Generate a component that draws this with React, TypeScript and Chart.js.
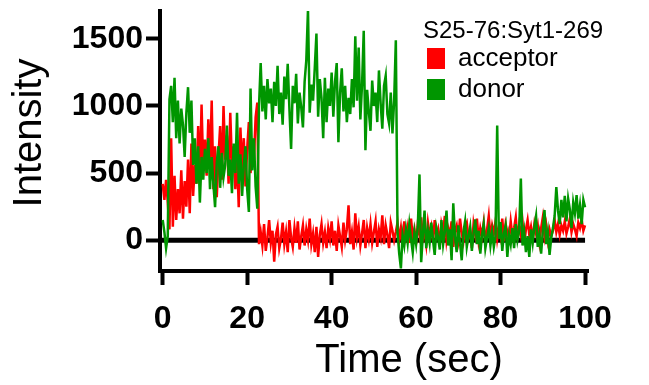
import React, { useEffect, useRef } from 'react';
import { Chart, registerables } from 'chart.js';

Chart.register(...registerables);

// sampling interval of the trace (seconds)
const TIME_STEP = 0.4;

// donor intensity (green), one value every 0.4 s from 0 to 100 s
const DONOR: number[] = [
  150, 60, -60, 30, 1050, 1150, 880, 1210, 760, 1040,
  720, 980, 860, 620, 950, 1140, 800, 1040, 560, 760,
  420, 700, 280, 620, 450, 680, 500, 760, 380, 620,
  420, 245, 580, 700, 390, 650, 470, 560, 855, 480,
  600, 350, 720, 500, 950, 420, 640, 330, 560, 700,
  380, 210, 1130, 520, 760, 400, 235, 1000, 1320, 960,
  1150, 900, 1200, 1020, 1130, 880, 1180, 1000, 1300, 940,
  1100, 860, 1220, 1050, 1315, 980, 680, 1150, 1020, 1240,
  870, 1100, 990, 840, 1180, 1340, 1720, 950, 1160, 1040,
  1280, 1540, 920, 1200, 1060, 760, 1210, 880, 1130, 1000,
  1250, 920, 1180, 1320, 730, 1100, 1280, 960, 1150, 880,
  1060, 940, 1200, 990, 1520, 1040, 1435, 900, 1160, 1560,
  670, 1120, 960, 815, 1190, 1000, 1100, 880, 1265, 1020,
  830, 1150, 1225, 940, 870, 1100, 795, 1040, 1490, 60,
  -100, -210, 40, -40, 80, -20, 120, 10, -90, 60,
  -30, 100, 490, -165, 40, 220, -60, 70, -20, 130,
  0, -110, 90, 20, -70, 150, -30, 60, 220, -40,
  80, -150, 275, 30, -90, 110, -20, -150, 60, 140,
  -50, 30, 100, -80, 50, 155, -30, 70, -100, 40,
  120, -60, 20, 90, -40, 60, -50, 30, 855, 10,
  135, -80, 50, 110, -125, 40, -30, 90, -60, 120,
  0, 70, 460, -40, 60, -90, 30, -125, 80, -20,
  100, 180, -50, 40, -100, 70, 225, -30, 60, -110,
  20, 90, 180, 395, 220, 120, 300, 170, 330, 140,
  310, 230, 90, 280, 200, 335, 160, 260, 120, 300,
  245,
];

// acceptor intensity (red), same time base
const ACCEPTOR: number[] = [
  420, 300, 450, 280, 80, 760, 100, 480, 150, 380,
  200, 520, 160, 440, 250, 600, 200, 720, 330, 560,
  420, 850, 460, 1010, 520, 750, 480, 900, 560, 1040,
  380, 700, 320, 620, 850, 450, 1000, 600, 780, 420,
  950, 560, 700, 380, 640, 245, 840, 520, 760, 400,
  680, 880, 500, 720, 600, 915, 1025, -30, 60, -40,
  120, -80, 20, 150, -20, 70, -160, 40, 100, -60,
  10, 130, -30, 60, -90, 150, 20, -50, 90, -20,
  140, -70, 30, 110, -40, 80, 0, 160, -30, 50,
  -90, 100, -125, 40, 120, -20, 60, -60, 90, 10,
  140, -40, 70, -80, 110, 30, -50, 130, 0, 80,
  260, -30, 60, -70, 200, 20, 100, -40, 50, 150,
  -60, 90, 10, 120, -20, 60, 140, -50, 80, 20,
  185, -30, 110, 40, -60, 130, 70, 0, 60, 130,
  0, 90, -40, 140, 30, 100, -20, 160, 20, 80,
  -30, 120, 40, 170, 10, 70, -30, 130, 40, 100,
  -10, 150, 30, 80, -40, 120, 60, 180, 0, 90,
  40, 140, -50, 70, 110, 10, 160, 50, -10, 100,
  130, 20, 70, -60, 120, 40, 160, 0, 90, 30,
  130, -20, 80, 180, 20, 110, 50, 140, 10, 100,
  30, 160, -10, 120, 60, 10, 140, 30, 90, 170,
  0, 110, 40, 130, -30, 80, 150, 40, 100, 10,
  120, 50, 110, -10, 90, 170, 30, 110, 0, 80,
  30, 70, 150, 60, 120, 40, 110, 70, 140, 50,
  100, 160, 60, 120, 80, 30, 130, 90, 150, 70,
  110,
];

const SERIES_NAMES = ['acceptor', 'donor'];
const SERIES_COLORS = ['#ff0000', '#009600'];
const LEGEND_TITLE = 'S25-76:Syt1-269';
const X_TICKS = [0, 20, 40, 60, 80, 100];
const Y_TICKS = [0, 500, 1000, 1500];
const X_TITLE = 'Time (sec)';
const Y_TITLE = 'Intensity';
const X_RANGE = [-0.64, 100.7];
const Y_RANGE = [-230, 1708];

const TIMES = DONOR.map((_, i) => Math.round(i * TIME_STEP * 10) / 10);

const SANS = '"Liberation Sans", Arial, Helvetica, sans-serif';
const X_TICK_FONT = { family: SANS, weight: 'bold' as const, size: 32 };
const Y_TICK_FONT = { family: SANS, weight: 'bold' as const, size: 32, lineHeight: 0.5 };

const decorPlugin = {
  id: 'decor',
  beforeDatasetsDraw(chart: any) {
    const { ctx, chartArea } = chart;
    const xs = chart.scales.x;
    const ys = chart.scales.y;
    const y0 = ys.getPixelForValue(0);
    ctx.save();
    ctx.strokeStyle = '#000';
    ctx.lineWidth = 5;
    ctx.beginPath();
    ctx.moveTo(chartArea.left, y0);
    ctx.lineTo(xs.getPixelForValue(X_TICKS[X_TICKS.length - 1]), y0);
    ctx.stroke();
    ctx.restore();
  },
  afterDraw(chart: any) {
    const { ctx, chartArea } = chart;
    ctx.save();
    ctx.fillStyle = '#000';
    ctx.textBaseline = 'alphabetic';
    // axis titles
    ctx.font = `40px ${SANS}`;
    ctx.textAlign = 'center';
    ctx.fillText(X_TITLE, chartArea.left + 249, chartArea.bottom + 101);
    ctx.save();
    ctx.translate(41, chartArea.top + 122);
    ctx.rotate(-Math.PI / 2);
    ctx.fillText(Y_TITLE, 0, 0);
    ctx.restore();
    // legend
    const lx = chartArea.left + 263;
    ctx.textAlign = 'left';
    ctx.font = `24px ${SANS}`;
    ctx.fillText(LEGEND_TITLE, lx, chartArea.top + 27);
    ctx.font = `26px ${SANS}`;
    [0, 1].forEach((k, j) => {
      const top = chartArea.top + 37 + j * 31;
      ctx.fillStyle = SERIES_COLORS[k];
      ctx.fillRect(lx + 4, top, 18, 21);
      ctx.fillStyle = '#000';
      ctx.fillText(SERIES_NAMES[k], lx + 35, top + 18);
    });
    ctx.restore();
  },
};

export default function App() {
  const ref = useRef<HTMLCanvasElement | null>(null);

  useEffect(() => {
    if (!ref.current) return;
    const toPoints = (arr: number[]) => arr.map((v, i) => ({ x: TIMES[i], y: v }));
    const chart = new Chart(ref.current, {
      type: 'line',
      data: {
        datasets: [
          {
            label: SERIES_NAMES[1],
            data: toPoints(DONOR),
            borderColor: SERIES_COLORS[1],
            borderWidth: 2.5,
            pointRadius: 0,
            tension: 0,
            order: 1,
          },
          {
            label: SERIES_NAMES[0],
            data: toPoints(ACCEPTOR),
            borderColor: SERIES_COLORS[0],
            borderWidth: 2.5,
            pointRadius: 0,
            tension: 0,
            order: 2,
          },
        ],
      },
      options: {
        animation: false,
        responsive: false,
        devicePixelRatio: 1,
        layout: { padding: { top: 10, right: 61, left: 0, bottom: 0 } },
        plugins: { legend: { display: false }, tooltip: { enabled: false }, title: { display: false } },
        scales: {
          x: {
            type: 'linear',
            min: X_RANGE[0],
            max: X_RANGE[1],
            afterBuildTicks: (s: any) => { s.ticks = X_TICKS.map((v) => ({ value: v })); },
            afterFit: (s: any) => { s.height = 114; },
            ticks: { font: X_TICK_FONT, color: '#000', padding: 15, maxRotation: 0, autoSkip: false, callback: (v: any) => String(v) },
            grid: { drawOnChartArea: false, drawTicks: true, tickLength: 14, tickWidth: 4, tickColor: '#000' },
            border: { display: true, color: '#000', width: 4 },
          },
          y: {
            type: 'linear',
            min: Y_RANGE[0],
            max: Y_RANGE[1],
            afterBuildTicks: (s: any) => { s.ticks = Y_TICKS.map((v) => ({ value: v })); },
            afterFit: (s: any) => { s.width = 160; },
            ticks: { font: Y_TICK_FONT, color: '#000', padding: 3, autoSkip: false, callback: (v: any) => String(v) },
            grid: { drawOnChartArea: false, drawTicks: true, tickLength: 14, tickWidth: 4, tickColor: '#000' },
            border: { display: true, color: '#000', width: 4 },
          },
        },
      },
      plugins: [decorPlugin],
    } as any);
    return () => chart.destroy();
  }, []);

  return (
    <div style={{ position: 'fixed', left: 0, top: 0, width: 649, height: 385, background: '#fff' }}>
      <canvas ref={ref} width={649} height={385} style={{ display: 'block', width: 649, height: 385 }} />
    </div>
  );
}
